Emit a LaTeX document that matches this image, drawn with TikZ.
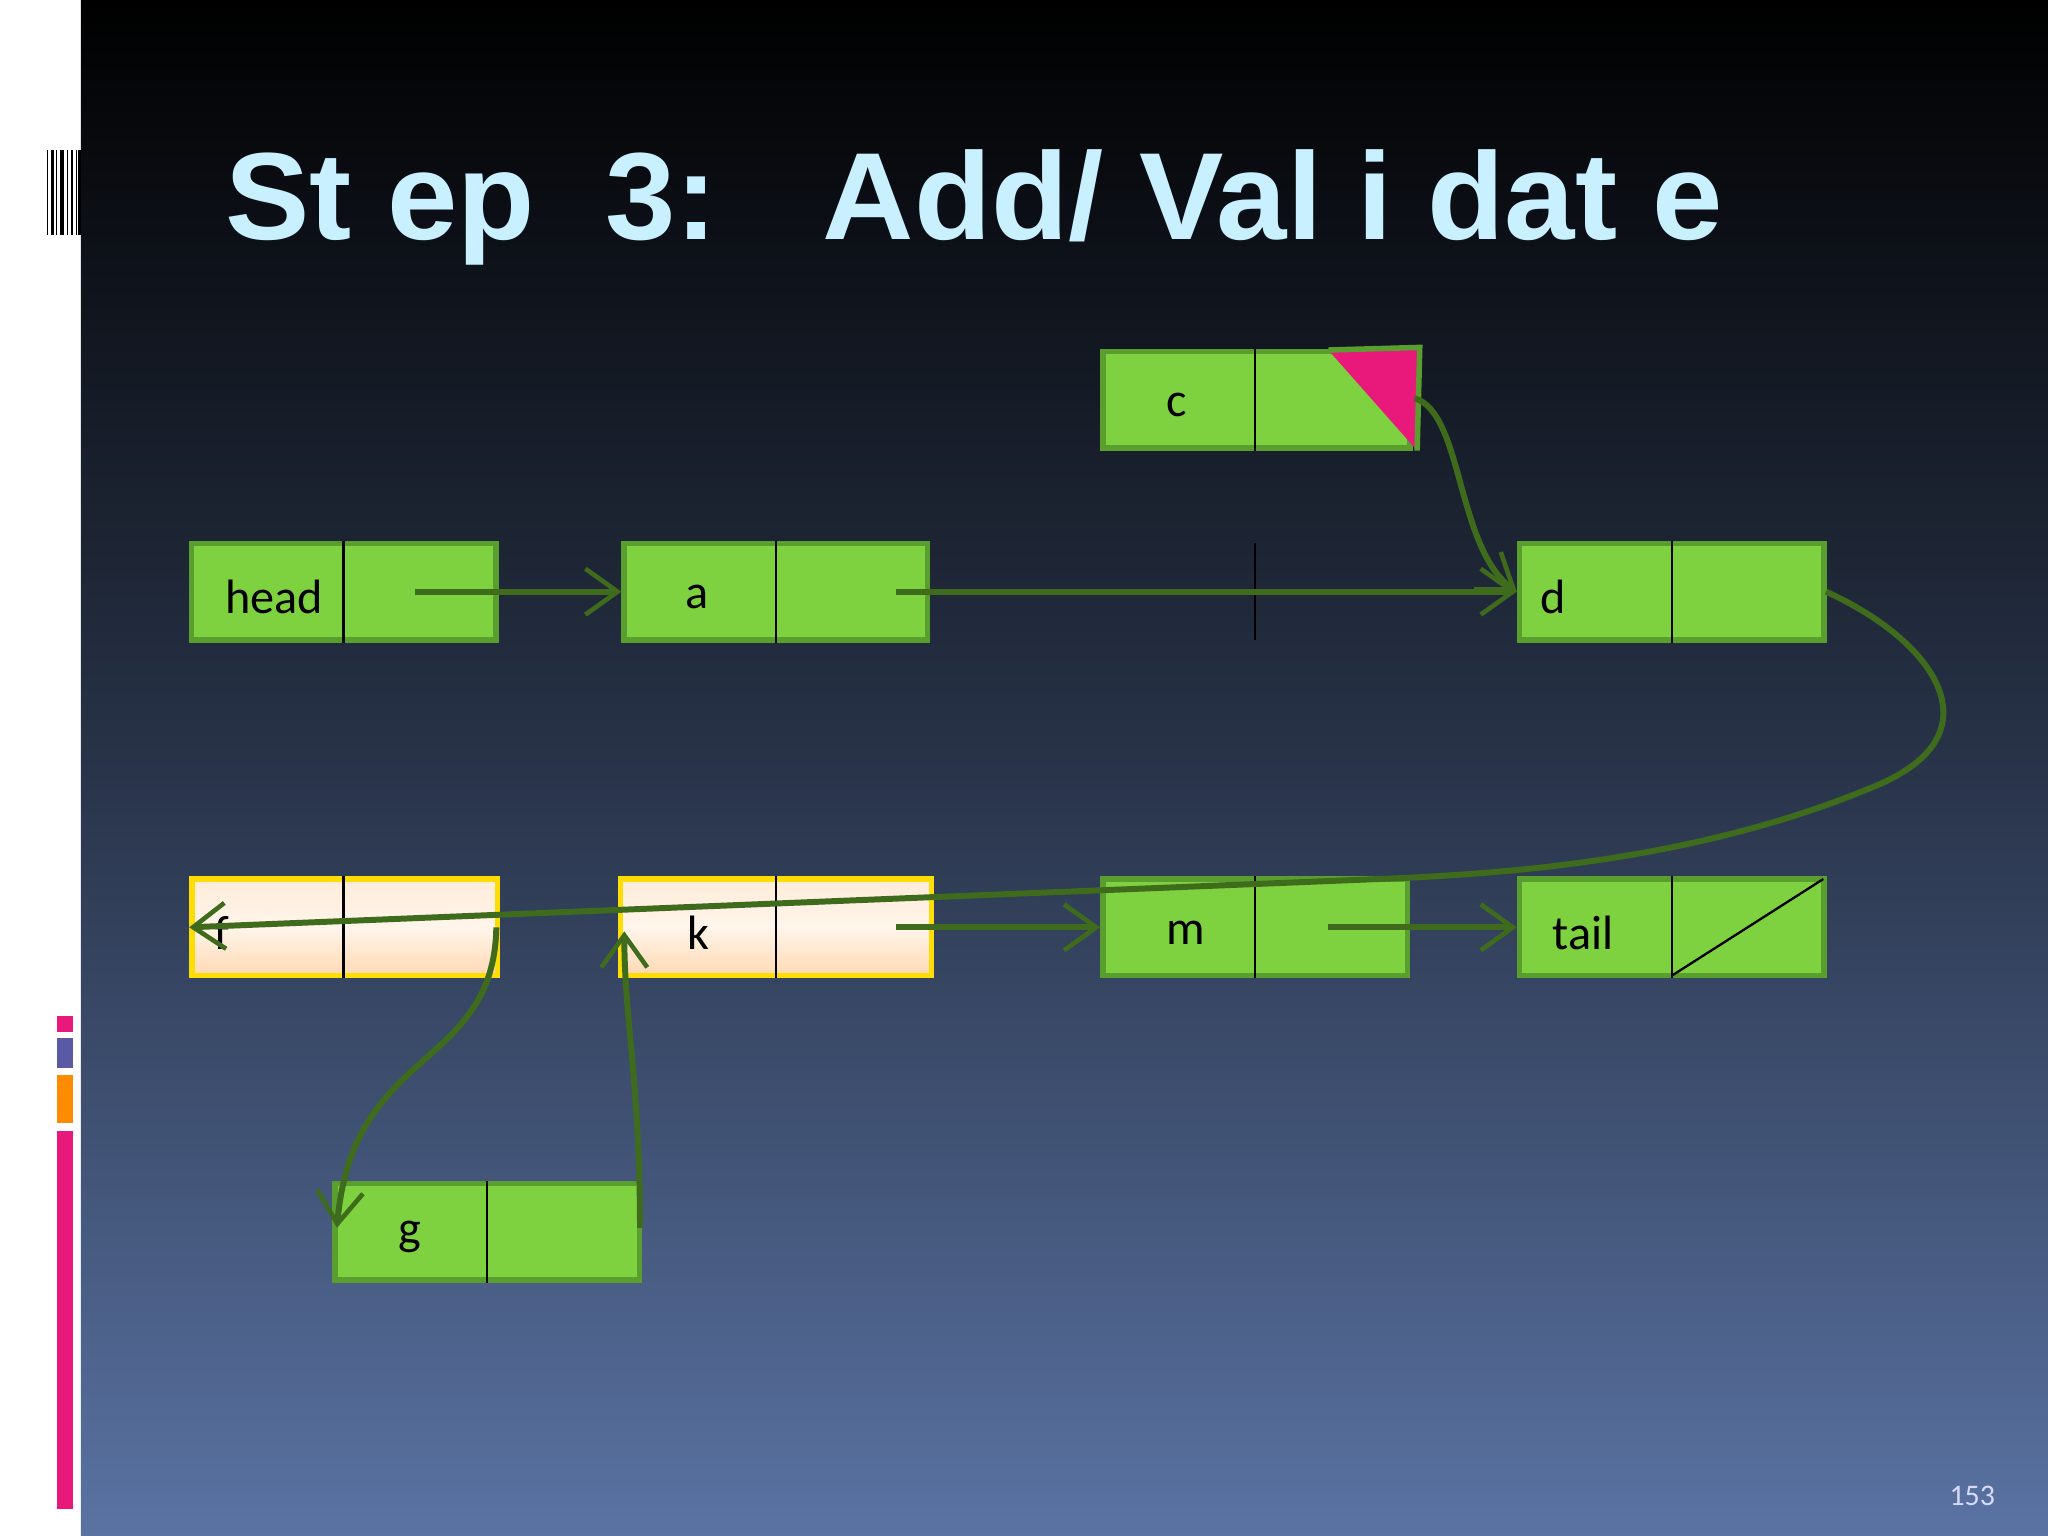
\documentclass[tikz,border=0pt]{standalone}
\usepackage{fontspec}
\setmainfont{Carlito}
\newfontfamily\titlefont{Liberation Sans}
\usetikzlibrary{arrows.meta}
\definecolor{boxg}{HTML}{7ED13F}
\definecolor{boxb}{HTML}{5A9E30}
\definecolor{lnk}{HTML}{3F6B1C}
\definecolor{pinkc}{HTML}{E8197A}
\definecolor{bgbot}{HTML}{5A73A3}
\definecolor{ttl}{HTML}{C8F0FF}
\tikzset{
 gbox/.style={draw=boxb,line width=1.2pt,fill=boxg,minimum width=6.6cm*0.35,minimum height=0.74cm,inner sep=0},
 obox/.style={draw=orange!80!yellow,line width=1.2pt,top color=orange!15,bottom color=orange!30,middle color=orange!8,minimum width=2.36cm,minimum height=0.74cm,inner sep=0},
 lbl/.style={font=\fontsize{10.5pt}{12pt}\selectfont,text=black},
 divl/.style={black,line width=0.5pt},
 ptr/.style={lnk,line width=1.3pt,-{Straight Barb[length=7pt,width=10pt,line width=1pt]}},
}
\begin{document}
\begin{tikzpicture}[x=0.01cm,y=-0.01cm]
\useasboundingbox (0,0) rectangle (1568,1176);
\fill[white] (0,0) rectangle (62,1176);
\shade[top color=black,bottom color=bgbot,middle color=black!55!bgbot] (62,0) rectangle (1568,1176);
\foreach \x/\w in {36/1,39/2,43/1,46/3,51/1,54/2,58/1,60/2}{\fill[black] (\x,115) rectangle ++(\w,65);}
\fill[pinkc] (44,778) rectangle (56,790);
\fill[gray!70!blue] (44,795) rectangle (56,818);
\fill[orange!90!yellow] (44,823) rectangle (56,860);
\fill[pinkc] (44,866) rectangle (56,1155);
\node[anchor=base west,text=ttl,font=\titlefont\bfseries\fontsize{27pt}{30pt}\selectfont,inner sep=0,xscale=1.02] (title) at (172,183) {St ep\ \ 3:\ \ \ Add/ Val i dat e};
% boxes
\node[gbox,minimum width=2.35cm] (c) at (962,306) {};
\node[gbox,minimum width=2.33cm] (head) at (263,453) {};
\node[gbox,minimum width=2.32cm] (a) at (594,453) {};
\node[gbox,minimum width=2.33cm] (d) at (1280,453) {};
\node[obox,minimum width=2.34cm,draw=yellow!80!orange] (f) at (264,710) {};
\node[obox,minimum width=2.38cm,draw=yellow!80!orange] (k) at (594,710) {};
\node[gbox,minimum width=2.33cm] (m) at (961,710) {};
\node[gbox,minimum width=2.33cm] (tail) at (1280,710) {};
\node[gbox,minimum width=2.33cm] (g) at (373,943) {};
\fill[pinkc] (1017,268) -- (1087,266) -- (1085,345) -- cycle;
\draw[boxb,line width=1.2pt] (1017,268) -- (1087,266) -- (1085,345);
\foreach \n/\x in {c/961,head/263,a/594,d/1280,f/263,k/594,m/961,tail/1280,g/373}{\draw[divl] (\x,0|-\n.north) -- (\x,0|-\n.south);}
\draw[divl] (961,416) -- (961,490);
\draw[black,line width=0.5pt] (1280,747) -- (1396,673);
\node[lbl] (tc) at (901,310) {c};
\node[lbl] (th) at (210,457) {head};
\node[lbl] (ta) at (534,457) {a};
\node[lbl] (td) at (1189,457) {d};
\node[lbl] (tf) at (170,714) {f};
\node[lbl] (tk) at (535,714) {k};
\node[lbl] (tm) at (908,714) {m};
\node[lbl] (tt) at (1212,714) {tail};
\node[lbl] (tg) at (314,947) {g};
\node[text=white!85!blue,font=\fontsize{6.5pt}{8pt}\selectfont] (num) at (1510,1145) {153};
% pointers
\coordinate (ph) at (318,453);
\coordinate (pa) at (686,453);
\coordinate (pc) at (1083,305);
\coordinate (pd) at (1398,453);
\coordinate (pk) at (686,710);
\coordinate (pm) at (1017,710);
\coordinate (pf) at (380,710);
\coordinate (pg) at (490,940);
\draw[ptr] (ph) -- (a.west);
\draw[ptr] (pa) -- (d.west);
\draw[ptr] (pc) .. controls (1120,315) and (1115,420) .. (d.west);
\draw[ptr] (pd) .. controls (1480,490) and (1530,560) .. (1440,600) .. controls (1300,660) and (1150,668) .. (1080,672) -- (f.west);
\draw[ptr] (pk) -- (m.west);
\draw[ptr] (pm) -- (tail.west);
\draw[ptr] (pf) .. controls (378,820) and (270,800) .. (258,940);
\draw[ptr] (pg) .. controls (490,830) and (478,780) .. (478,713);
\end{tikzpicture}
\end{document}
